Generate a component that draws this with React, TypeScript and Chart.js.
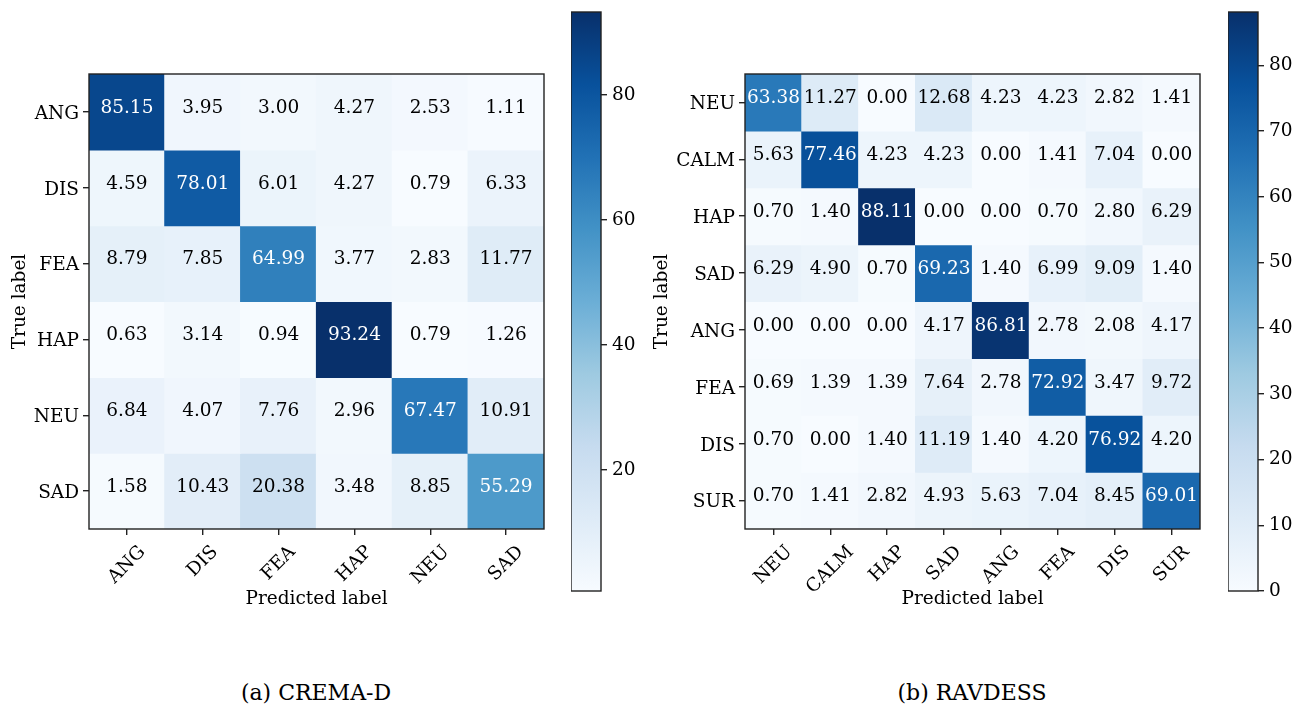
import React, { useEffect, useRef } from "react";
import { Chart, registerables } from "chart.js";

Chart.register(...registerables);

const FONT_FAMILY = "'DejaVu Serif', 'Liberation Serif', serif";
const FONT_SIZE = 18.5;
const CAPTION_SIZE = 22;
const SPINE_COLOR = "#222222";

// ---- CREMA-D (rows: true label, columns: predicted label, %) ----
const cremaClasses = ["ANG", "DIS", "FEA", "HAP", "NEU", "SAD"];
const cremaAng = [85.15, 3.95, 3.0, 4.27, 2.53, 1.11];
const cremaDis = [4.59, 78.01, 6.01, 4.27, 0.79, 6.33];
const cremaFea = [8.79, 7.85, 64.99, 3.77, 2.83, 11.77];
const cremaHap = [0.63, 3.14, 0.94, 93.24, 0.79, 1.26];
const cremaNeu = [6.84, 4.07, 7.76, 2.96, 67.47, 10.91];
const cremaSad = [1.58, 10.43, 20.38, 3.48, 8.85, 55.29];
const cremaColorbarTicks = [20, 40, 60, 80];

// ---- RAVDESS ----
const ravdessClasses = ["NEU", "CALM", "HAP", "SAD", "ANG", "FEA", "DIS", "SUR"];
const ravdessNeu = [63.38, 11.27, 0.0, 12.68, 4.23, 4.23, 2.82, 1.41];
const ravdessCalm = [5.63, 77.46, 4.23, 4.23, 0.0, 1.41, 7.04, 0.0];
const ravdessHap = [0.7, 1.4, 88.11, 0.0, 0.0, 0.7, 2.8, 6.29];
const ravdessSad = [6.29, 4.9, 0.7, 69.23, 1.4, 6.99, 9.09, 1.4];
const ravdessAng = [0.0, 0.0, 0.0, 4.17, 86.81, 2.78, 2.08, 4.17];
const ravdessFea = [0.69, 1.39, 1.39, 7.64, 2.78, 72.92, 3.47, 9.72];
const ravdessDis = [0.7, 0.0, 1.4, 11.19, 1.4, 4.2, 76.92, 4.2];
const ravdessSur = [0.7, 1.41, 2.82, 4.93, 5.63, 7.04, 8.45, 69.01];
const ravdessColorbarTicks = [0, 10, 20, 30, 40, 50, 60, 70, 80];

const cremaMatrix = [cremaAng, cremaDis, cremaFea, cremaHap, cremaNeu, cremaSad];
const ravdessMatrix = [
  ravdessNeu,
  ravdessCalm,
  ravdessHap,
  ravdessSad,
  ravdessAng,
  ravdessFea,
  ravdessDis,
  ravdessSur,
];

// "Blues" sequential colormap (ColorBrewer, 9 classes)
const BLUES = [
  [247, 251, 255],
  [222, 235, 247],
  [198, 219, 239],
  [158, 202, 225],
  [107, 174, 214],
  [66, 146, 198],
  [33, 113, 181],
  [8, 81, 156],
  [8, 48, 107],
];

function blues(t: number): string {
  const c = Math.min(1, Math.max(0, t)) * (BLUES.length - 1);
  const i = Math.min(BLUES.length - 2, Math.floor(c));
  const f = c - i;
  const a = BLUES[i];
  const b = BLUES[i + 1];
  const ch = (k: number) => Math.round(a[k] + (b[k] - a[k]) * f);
  return `rgb(${ch(0)}, ${ch(1)}, ${ch(2)})`;
}

const font = { family: FONT_FAMILY, size: FONT_SIZE };

type MatrixProps = {
  classes: string[];
  rows: number[][];
  left: number;
  width: number;
  yAxisWidth: number;
  yTitlePad: number;
};

const PLOT_TOP = 74;
const PLOT_SIZE = 455;
const X_AXIS_HEIGHT = 81;
const CANVAS_HEIGHT = 630;
const CELL_TEXT_SHIFT = -4;

function ConfusionMatrix({ classes, rows, left, width, yAxisWidth, yTitlePad }: MatrixProps) {
  const ref = useRef<HTMLCanvasElement | null>(null);

  useEffect(() => {
    if (!ref.current) return;
    const n = classes.length;
    const flat = rows.flat();
    const vmin = Math.min(...flat);
    const vmax = Math.max(...flat);
    const thresh = (vmax + vmin) / 2;

    const datasets = rows.map((row, i) => ({
      label: classes[i],
      data: row.map(() => [i, i + 1]),
      backgroundColor: row.map((v) => blues((v - vmin) / (vmax - vmin))),
      borderWidth: 0,
      barPercentage: 1,
      categoryPercentage: 1,
      grouped: false,
      inflateAmount: 0.6,
    }));

    const matrixDecor = {
      id: "matrixDecor",
      afterDatasetsDraw(chart: any) {
        const { ctx, chartArea } = chart;
        ctx.save();
        ctx.font = `${FONT_SIZE}px ${FONT_FAMILY}`;
        ctx.textAlign = "center";
        ctx.textBaseline = "middle";
        rows.forEach((row, i) => {
          const meta = chart.getDatasetMeta(i);
          row.forEach((v, j) => {
            const el = meta.data[j];
            if (!el) return;
            const p = el.getCenterPoint();
            ctx.fillStyle = v > thresh ? "#ffffff" : "#000000";
            ctx.fillText(v.toFixed(2), p.x, p.y + CELL_TEXT_SHIFT);
          });
        });
        ctx.strokeStyle = SPINE_COLOR;
        ctx.lineWidth = 1.4;
        ctx.strokeRect(chartArea.left, chartArea.top, chartArea.right - chartArea.left, chartArea.bottom - chartArea.top);
        ctx.restore();
      },
      afterDraw(chart: any) {
        // rotated predicted-label ticks, centred under each column
        const { ctx, chartArea } = chart;
        const xs = chart.scales.x;
        const top = chartArea.bottom + 6 + 6.5;
        ctx.save();
        ctx.font = `${FONT_SIZE}px ${FONT_FAMILY}`;
        ctx.fillStyle = "#000000";
        ctx.textAlign = "center";
        ctx.textBaseline = "middle";
        classes.forEach((c, i) => {
          const x = xs.getPixelForValue(i);
          const w = ctx.measureText(c).width;
          const h = FONT_SIZE * 1.17;
          const cy = top + (w + h) / (2 * Math.SQRT2);
          ctx.save();
          ctx.translate(x, cy);
          ctx.rotate(-Math.PI / 4);
          ctx.fillText(c, 0, 0);
          ctx.restore();
        });
        ctx.restore();
      },
    };

    const chart = new Chart(ref.current, {
      type: "bar",
      data: { labels: classes, datasets: datasets as any },
      options: {
        responsive: false,
        animation: false,
        devicePixelRatio: 1,
        layout: {
          padding: {
            left: 0,
            top: PLOT_TOP,
            right: width - yAxisWidth - PLOT_SIZE,
            bottom: CANVAS_HEIGHT - PLOT_TOP - PLOT_SIZE - X_AXIS_HEIGHT,
          },
        },
        plugins: { legend: { display: false }, tooltip: { enabled: false } },
        scales: {
          x: {
            type: "category",
            position: "bottom",
            offset: true,
            grid: {
              offset: false,
              drawOnChartArea: false,
              drawTicks: true,
              tickLength: 6,
              color: SPINE_COLOR,
              lineWidth: 1.4,
            },
            border: { display: false },
            ticks: { display: false },
            title: {
              display: true,
              text: "Predicted label",
              font,
              color: "#000000",
              padding: 0,
            },
            afterFit: (s: any) => {
              s.height = X_AXIS_HEIGHT;
            },
          },
          y: {
            type: "linear",
            min: 0,
            max: n,
            reverse: true,
            afterBuildTicks: (s: any) => {
              s.ticks = classes.map((_, i) => ({ value: i + 0.5 }));
            },
            ticks: {
              callback: (_v: any, i: number) => classes[i],
              font,
              color: "#000000",
              padding: 4,
              labelOffset: 2,
            },
            grid: {
              drawOnChartArea: false,
              tickLength: 6,
              color: SPINE_COLOR,
              lineWidth: 1.4,
            },
            border: { display: false },
            title: {
              display: true,
              text: "True label",
              font,
              color: "#000000",
              padding: { top: yTitlePad, bottom: 0 },
            },
            afterFit: (s: any) => {
              s.width = yAxisWidth;
            },
          },
        },
      } as any,
      plugins: [matrixDecor],
    });

    return () => chart.destroy();
  }, [classes, rows, width, yAxisWidth, yTitlePad]);

  return (
    <canvas
      ref={ref}
      width={width}
      height={CANVAS_HEIGHT}
      style={{ position: "absolute", left, top: 0, width, height: CANVAS_HEIGHT }}
    />
  );
}

type ColorbarProps = {
  rows: number[][];
  ticks: number[];
  left: number;
};

// colour bar spans page y 12..591; the canvas starts above the page edge so
// that the layout padding stays larger than the tick-label overhang
const CB_CANVAS_TOP = -10;
const CB_TOP = 12;
const CB_BOTTOM = 591;
const CB_WIDTH = 30;
const CB_CANVAS_W = 70;
const CB_CANVAS_H = 625;

function Colorbar({ rows, ticks, left }: ColorbarProps) {
  const ref = useRef<HTMLCanvasElement | null>(null);

  useEffect(() => {
    if (!ref.current) return;
    const flat = rows.flat();
    const vmin = Math.min(...flat);
    const vmax = Math.max(...flat);

    const frame = {
      id: "colorbarFrame",
      afterDatasetsDraw(chart: any) {
        const { ctx, chartArea } = chart;
        ctx.save();
        ctx.strokeStyle = SPINE_COLOR;
        ctx.lineWidth = 1.4;
        ctx.strokeRect(chartArea.left, chartArea.top, chartArea.right - chartArea.left, chartArea.bottom - chartArea.top);
        ctx.restore();
      },
    };

    const chart = new Chart(ref.current, {
      type: "bar",
      data: {
        labels: ["scale"],
        datasets: [
          {
            data: [[vmin, vmax]],
            backgroundColor: (c: any) => {
              const area = c.chart.chartArea;
              if (!area) return blues(0.5);
              const g = c.chart.ctx.createLinearGradient(0, area.bottom, 0, area.top);
              BLUES.forEach((_, k) => g.addColorStop(k / (BLUES.length - 1), blues(k / (BLUES.length - 1))));
              return g;
            },
            borderWidth: 0,
            barPercentage: 1,
            categoryPercentage: 1,
            inflateAmount: 0,
          },
        ],
      },
      options: {
        responsive: false,
        animation: false,
        devicePixelRatio: 1,
        layout: {
          padding: {
            left: 0,
            top: CB_TOP - CB_CANVAS_TOP,
            right: 0,
            bottom: CB_CANVAS_H + CB_CANVAS_TOP - CB_BOTTOM,
          },
        },
        plugins: { legend: { display: false }, tooltip: { enabled: false } },
        scales: {
          x: { display: false, offset: true },
          y: {
            type: "linear",
            position: "right",
            min: vmin,
            max: vmax,
            afterBuildTicks: (s: any) => {
              s.ticks = ticks.map((v) => ({ value: v }));
            },
            ticks: { font, color: "#000000", padding: 5 },
            grid: {
              drawOnChartArea: false,
              tickLength: 6,
              color: SPINE_COLOR,
              lineWidth: 1.4,
            },
            border: { display: false },
            afterFit: (s: any) => {
              s.width = CB_CANVAS_W - CB_WIDTH;
            },
          },
        },
      } as any,
      plugins: [frame],
    });

    return () => chart.destroy();
  }, [rows, ticks]);

  return (
    <canvas
      ref={ref}
      width={CB_CANVAS_W}
      height={CB_CANVAS_H}
      style={{
        position: "absolute",
        left,
        top: CB_CANVAS_TOP,
        width: CB_CANVAS_W,
        height: CB_CANVAS_H,
      }}
    />
  );
}

function Caption({ text, center }: { text: string; center: number }) {
  return (
    <div
      style={{
        position: "absolute",
        left: center - 200,
        width: 400,
        top: 682,
        textAlign: "center",
        fontFamily: FONT_FAMILY,
        fontSize: CAPTION_SIZE,
        lineHeight: `${CAPTION_SIZE}px`,
        color: "#000",
      }}
    >
      {text}
    </div>
  );
}

export default function App() {
  return (
    <div
      style={{
        position: "absolute",
        left: 0,
        top: 0,
        width: 1293,
        height: 705,
        background: "#ffffff",
        overflow: "hidden",
      }}
    >
      <ConfusionMatrix
        classes={cremaClasses}
        rows={cremaMatrix}
        left={0}
        width={555}
        yAxisWidth={89}
        yTitlePad={9}
      />
      <Colorbar rows={cremaMatrix} ticks={cremaColorbarTicks} left={571} />
      <ConfusionMatrix
        classes={ravdessClasses}
        rows={ravdessMatrix}
        left={640}
        width={570}
        yAxisWidth={105}
        yTitlePad={11}
      />
      <Colorbar rows={ravdessMatrix} ticks={ravdessColorbarTicks} left={1228} />
      <Caption text="(a) CREMA-D" center={316} />
      <Caption text="(b) RAVDESS" center={972} />
    </div>
  );
}
